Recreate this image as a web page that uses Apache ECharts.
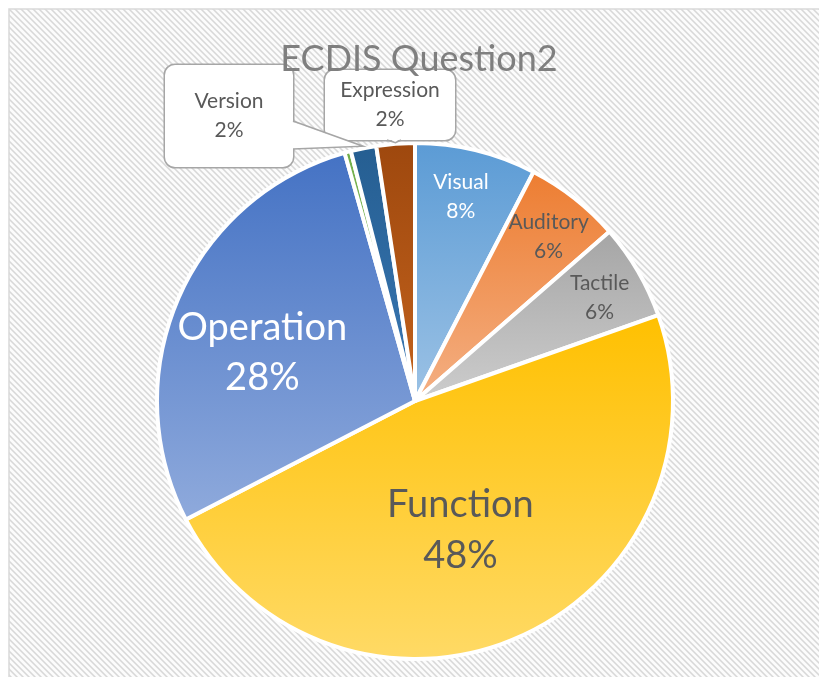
<!DOCTYPE html>
<html>
<head>
<meta charset="utf-8">
<script src="https://cdn.jsdelivr.net/npm/echarts@6/dist/echarts.min.js"></script>
<style>
  html, body { margin: 0; padding: 0; background: #ffffff; }
  #chart { width: 819px; height: 677px; }
</style>
</head>
<body>
<div id="chart"></div>
<script>
// ---- data ----
const chartTitle = 'ECDIS Question2';
const categories = ['Visual', 'Auditory', 'Tactile', 'Function', 'Operation', 'Other', 'Version', 'Expression'];
const shares = [7.6, 6.0, 6.0, 47.8, 28.2, 0.4, 1.6, 2.4];

// ---- styling ----
const FONT = 'Lato, "Open Sans", sans-serif';
const pieCenter = [415, 401];
const pieRadius = 258;

// vertical gradient per slice: [top, bottom]
const sliceColors = {
  Visual:     ['#5B9BD5', '#9CC2E5'],
  Auditory:   ['#ED7D31', '#F4B084'],
  Tactile:    ['#A5A5A5', '#CDCDCD'],
  Function:   ['#FFC000', '#FFDA66'],
  Operation:  ['#4472C4', '#8FAADC'],
  Other:      ['#70AD47', '#A9D18E'],
  Version:    ['#255E91', '#3A78B5'],
  Expression: ['#9E480E', '#C4631D']
};

// labels drawn inside their slice: radial position (fraction of radius), angular nudge (deg)
const insideLabels = {
  Visual:    { k: 0.81, turn: -1, size: 21, lh: 29, color: '#ffffff' },
  Auditory:  { k: 0.82, turn: 1,  size: 21, lh: 29, color: '#595959' },
  Tactile:   { k: 0.82, turn: 1,  size: 21, lh: 29, color: '#595959' },
  Function:  { k: 0.53, turn: 4,  size: 38, lh: 51, color: '#595959' },
  Operation: { k: 0.62, turn: -6, size: 38, lh: 50, color: '#ffffff' }
};

// callout boxes: centre, width, vertical padding, and the base of the pointer wedge
const callouts = {
  Version:    { cx: 229, cy: 116, w: 128, padV: 22, base: [[293, 121], [293, 149]], dir: [-3, 0], reach: 2 },
  Expression: { cx: 390, cy: 105, w: 130, padV: 6,  base: [[387, 140], [401, 140]], dir: [0, -3], reach: 1 }
};

// diagonal hatch tile for the plot background
function hatchTile() {
  const n = 6;
  const c = document.createElement('canvas');
  c.width = n; c.height = n;
  const ctx = c.getContext('2d');
  const img = ctx.createImageData(n, n);
  for (let y = 0; y < n; y++) {
    for (let x = 0; x < n; x++) {
      const d = (((x - y) % n) + n) % n;
      let v = 252;
      if (d === 0) v = 216;
      else if (d === 1 || d === n - 1) v = 231;
      const i = (y * n + x) * 4;
      img.data[i] = v; img.data[i + 1] = v; img.data[i + 2] = v; img.data[i + 3] = 255;
    }
  }
  ctx.putImageData(img, 0, 0);
  return c;
}

const total = shares.reduce((a, b) => a + b, 0);
function midAngle(i) {
  let start = 0;
  for (let j = 0; j < i; j++) start += shares[j];
  return (start + shares[i] / 2) / total * 2 * Math.PI;
}
function polar(angle, r) {
  return [pieCenter[0] + r * Math.sin(angle), pieCenter[1] - r * Math.cos(angle)];
}

const seriesData = categories.map((name, i) => {
  const [top, bottom] = sliceColors[name];
  const item = {
    name: name,
    value: shares[i],
    itemStyle: {
      color: {
        type: 'linear', x: 0, y: 0, x2: 0, y2: 1,
        colorStops: [{ offset: 0, color: top }, { offset: 1, color: bottom }]
      }
    }
  };
  if (insideLabels[name]) {
    const s = insideLabels[name];
    item.label = {
      show: true, position: 'inside', formatter: '{b}\n{d}%',
      fontFamily: FONT, fontSize: s.size, lineHeight: s.lh, color: s.color, align: 'center'
    };
  } else if (callouts[name]) {
    const c = callouts[name];
    item.label = {
      show: true, position: 'outside', formatter: '{b}\n{d}%',
      fontFamily: FONT, fontSize: 21, lineHeight: 29, color: '#595959', align: 'center',
      width: c.w, padding: [c.padV, 0],
      backgroundColor: '#ffffff', borderColor: '#a6a6a6', borderWidth: 1.5, borderRadius: 10
    };
  } else {
    item.label = { show: false };
  }
  item.labelLine = { show: false };
  return item;
});

// pointer wedges joining each callout box to its slice
const wedges = [];
categories.forEach((name, i) => {
  const c = callouts[name];
  if (!c) return;
  const tip = polar(midAngle(i), pieRadius + c.reach);
  const inner = c.base.map(p => [p[0] + c.dir[0], p[1] + c.dir[1]]);
  wedges.push({
    type: 'polygon', z: 5, silent: true,
    shape: { points: [inner[0], tip, inner[1]] },
    style: { fill: '#ffffff' }
  });
  wedges.push({
    type: 'polyline', z: 5, silent: true,
    shape: { points: [c.base[0], tip, c.base[1]] },
    style: { stroke: '#a6a6a6', lineWidth: 1.5, fill: null }
  });
});

const chart = echarts.init(document.getElementById('chart'));
chart.setOption({
  animation: false,
  backgroundColor: '#ffffff',
  graphic: [
    {
      type: 'rect', z: -10, silent: true,
      shape: { x: 9, y: 9, width: 830, height: 690 },
      style: { fill: { image: hatchTile(), repeat: 'repeat' }, stroke: '#d9d9d9', lineWidth: 1.5 }
    }
  ].concat(wedges).concat([
    {
      type: 'text', z: 100, silent: true,
      x: 419, y: 59,
      style: {
        text: chartTitle, align: 'center', verticalAlign: 'middle',
        fontFamily: FONT, fontSize: 36, fill: '#7f7f7f'
      }
    }
  ]),
  series: [{
    type: 'pie',
    center: pieCenter,
    radius: pieRadius,
    startAngle: 90,
    clockwise: true,
    avoidLabelOverlap: false,
    percentPrecision: 0,
    silent: true,
    emphasis: { disabled: true },
    itemStyle: { borderColor: '#ffffff', borderWidth: 4 },
    data: seriesData,
    labelLayout: function (params) {
      const name = categories[params.dataIndex];
      if (insideLabels[name]) {
        const s = insideLabels[name];
        const p = polar(midAngle(params.dataIndex) + s.turn * Math.PI / 180, s.k * pieRadius);
        return { x: p[0], y: p[1], align: 'center', verticalAlign: 'middle' };
      }
      if (callouts[name]) {
        const c = callouts[name];
        return { x: c.cx, y: c.cy, align: 'center', verticalAlign: 'middle' };
      }
      return {};
    }
  }]
});
</script>
</body>
</html>
